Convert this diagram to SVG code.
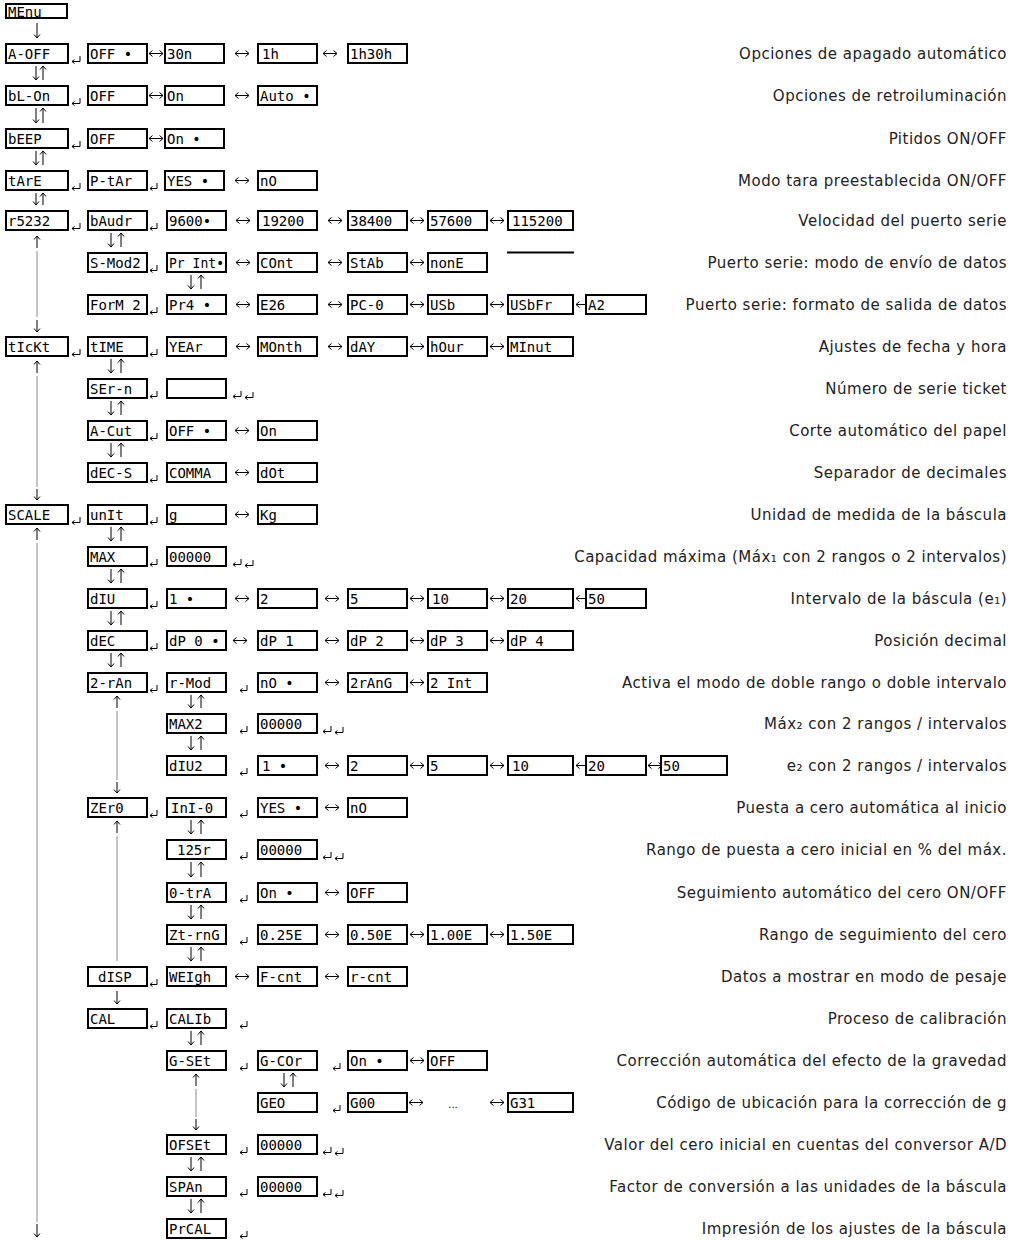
<svg xmlns="http://www.w3.org/2000/svg" width="1020" height="1240" viewBox="0 0 1020 1240">
<style>
.b{fill:#fff;stroke:#000;stroke-width:2}
.t{font-family:"DejaVu Sans Mono",monospace;font-size:14px;fill:#000}
.d{font-family:"DejaVu Sans",sans-serif;font-size:15px;fill:#222;text-anchor:end;letter-spacing:0.5px}
.a{stroke:#000;stroke-width:1;fill:none;marker-end:url(#ah)}
.x{stroke:#000;stroke-width:1;fill:none;marker-start:url(#ah);marker-end:url(#ah)}
.r{stroke:#000;stroke-width:1;fill:none;marker-end:url(#ahs)}
.g{stroke:#8c8c8c;stroke-width:1;fill:none}
.dots{font-family:"DejaVu Sans",sans-serif;font-size:10px;fill:#000;text-anchor:middle}
</style>
<defs>
<marker id="ah" viewBox="-4 -4 5 8" refX="0" refY="0" markerWidth="5" markerHeight="8" markerUnits="userSpaceOnUse" orient="auto-start-reverse" overflow="visible"><path d="M-3.5,-3 L0,0 L-3.5,3" fill="none" stroke="#000" stroke-width="1"/></marker>
<marker id="ahs" viewBox="-3 -3 4 6" refX="0" refY="0" markerWidth="4" markerHeight="6" markerUnits="userSpaceOnUse" orient="auto" overflow="visible"><path d="M-2.5,-2 L0,0 L-2.5,2" fill="none" stroke="#000" stroke-width="1"/></marker>
</defs>

<g id="connectors">
<!-- vertical -->
<path class="a" d="M37,23V38"/>
<path class="a" d="M36,66V80"/><path class="a" d="M43,80V66"/>
<path class="a" d="M36,108V123"/><path class="a" d="M43,123V108"/>
<path class="a" d="M36,151V165"/><path class="a" d="M43,165V151"/>
<path class="a" d="M36,193V205"/><path class="a" d="M43,205V193"/>
<path class="a" d="M111,233V247"/><path class="a" d="M121,247V233"/>
<path class="a" d="M111,359V373"/><path class="a" d="M121,373V359"/>
<path class="a" d="M111,401V415"/><path class="a" d="M121,415V401"/>
<path class="a" d="M111,443V457"/><path class="a" d="M121,457V443"/>
<path class="a" d="M111,527V541"/><path class="a" d="M121,541V527"/>
<path class="a" d="M111,569V583"/><path class="a" d="M121,583V569"/>
<path class="a" d="M111,611V625"/><path class="a" d="M121,625V611"/>
<path class="a" d="M111,653V667"/><path class="a" d="M121,667V653"/>
<path class="a" d="M191,275V289"/><path class="a" d="M201,289V275"/>
<path class="a" d="M191,695V708"/><path class="a" d="M201,708V695"/>
<path class="a" d="M191,736V750"/><path class="a" d="M201,750V736"/>
<path class="a" d="M191,820V834"/><path class="a" d="M201,834V820"/>
<path class="a" d="M191,862V877"/><path class="a" d="M201,877V862"/>
<path class="a" d="M191,905V919"/><path class="a" d="M201,919V905"/>
<path class="a" d="M191,947V961"/><path class="a" d="M201,961V947"/>
<path class="a" d="M191,1031V1045"/><path class="a" d="M201,1045V1031"/>
<path class="a" d="M191,1157V1171"/><path class="a" d="M201,1171V1157"/>
<path class="a" d="M191,1199V1213"/><path class="a" d="M201,1213V1199"/>
<path class="a" d="M284,1073V1087"/><path class="a" d="M293,1087V1073"/>
<!-- long vertical -->
<path class="a" d="M37,248V236"/><path class="g" d="M37,251V317"/><path class="a" d="M37,320V332"/>
<path class="a" d="M37,373V361"/><path class="g" d="M37,376V487"/><path class="a" d="M37,489V500"/>
<path class="a" d="M37,540V528"/><path class="g" d="M37,543V1222"/><path class="a" d="M37,1224V1237"/>
<path class="a" d="M117,708V696"/><path class="g" d="M117,711V780"/><path class="a" d="M117,782V793"/>
<path class="a" d="M117,833V821"/><path class="g" d="M117,836V961"/><path class="a" d="M117,991V1004"/>
<path class="a" d="M196,1086V1074"/><path class="g" d="M196,1089V1117"/><path class="a" d="M196,1119V1130"/>
<!-- horizontal -->
<path class="r" d="M80,56V61.5H72"/><path class="x" d="M149,53.5H163"/><path class="x" d="M235,53.5H249"/><path class="x" d="M323,53.5H337"/>
<path class="r" d="M80,98V103.5H72"/><path class="x" d="M149,95.5H163"/><path class="x" d="M235,95.5H249"/>
<path class="r" d="M80,141V146.5H72"/><path class="x" d="M149,138.5H163"/>
<path class="r" d="M80,183V188.5H72"/><path class="r" d="M157,183V188.5H150"/><path class="x" d="M235,180.5H249"/>
<path class="r" d="M80,223V228.5H72"/><path class="r" d="M157,223V228.5H150"/><path class="x" d="M236,220.5H250"/><path class="x" d="M328,220.5H342"/><path class="x" d="M410,220.5H424"/><path class="x" d="M490,220.5H504"/>
<path class="r" d="M157,265V270.5H150"/><path class="x" d="M236,262.5H250"/><path class="x" d="M328,262.5H342"/><path class="x" d="M410,262.5H424"/>
<path class="r" d="M157,307V312.5H150"/><path class="x" d="M236,304.5H250"/><path class="x" d="M328,304.5H342"/><path class="x" d="M410,304.5H424"/><path class="x" d="M490,304.5H504"/><path class="x" d="M576,304.5H590"/>
<path class="r" d="M80,349V354.5H72"/><path class="r" d="M157,349V354.5H150"/><path class="x" d="M236,346.5H250"/><path class="x" d="M328,346.5H342"/><path class="x" d="M410,346.5H424"/><path class="x" d="M490,346.5H504"/>
<path class="r" d="M157,391V396.5H150"/><path class="r" d="M241,391V396.5H233"/><path class="r" d="M253,392V397.5H245"/>
<path class="r" d="M157,433V438.5H150"/><path class="x" d="M235,430.5H249"/>
<path class="r" d="M157,475V480.5H150"/><path class="x" d="M235,472.5H249"/>
<path class="r" d="M80,517V522.5H72"/><path class="r" d="M157,517V522.5H150"/><path class="x" d="M235,514.5H249"/>
<path class="r" d="M157,559V564.5H150"/><path class="r" d="M241,559V564.5H233"/><path class="r" d="M253,560V565.5H245"/>
<path class="r" d="M157,601V606.5H150"/><path class="x" d="M235,598.5H249"/><path class="x" d="M325,598.5H339"/><path class="x" d="M410,598.5H424"/><path class="x" d="M490,598.5H504"/><path class="x" d="M576,598.5H590"/>
<path class="r" d="M157,643V648.5H150"/><path class="x" d="M233,640.5H247"/><path class="x" d="M325,640.5H339"/><path class="x" d="M410,640.5H424"/><path class="x" d="M490,640.5H504"/>
<path class="r" d="M157,685V690.5H150"/><path class="r" d="M247,685V690.5H240"/><path class="x" d="M325,682.5H339"/><path class="x" d="M410,682.5H424"/>
<path class="r" d="M247,726V731.5H240"/><path class="r" d="M331,726V731.5H323"/><path class="r" d="M343,727V732.5H335"/>
<path class="r" d="M247,768V773.5H240"/><path class="x" d="M325,765.5H339"/><path class="x" d="M410,765.5H424"/><path class="x" d="M490,765.5H504"/><path class="x" d="M576,765.5H590"/><path class="x" d="M648,765.5H662"/>
<path class="r" d="M157,810V815.5H150"/><path class="r" d="M247,810V815.5H240"/><path class="x" d="M325,807.5H339"/>
<path class="r" d="M247,852V857.5H240"/><path class="r" d="M331,852V857.5H323"/><path class="r" d="M343,853V858.5H335"/>
<path class="r" d="M247,895V900.5H240"/><path class="x" d="M325,892.5H339"/>
<path class="r" d="M247,937V942.5H240"/><path class="x" d="M325,934.5H339"/><path class="x" d="M410,934.5H424"/><path class="x" d="M490,934.5H504"/>
<path class="r" d="M157,979V984.5H150"/><path class="x" d="M235,976.5H249"/><path class="x" d="M325,976.5H339"/>
<path class="r" d="M157,1021V1026.5H150"/><path class="r" d="M247,1021V1026.5H240"/>
<path class="r" d="M247,1063V1068.5H240"/><path class="r" d="M340,1063V1068.5H333"/><path class="x" d="M410,1060.5H424"/>
<path class="r" d="M340,1105V1110.5H333"/><path class="x" d="M409,1102.5H423"/><path class="x" d="M490,1102.5H504"/>
<path class="r" d="M247,1147V1152.5H240"/><path class="r" d="M331,1147V1152.5H323"/><path class="r" d="M343,1148V1153.5H335"/>
<path class="r" d="M247,1189V1194.5H240"/><path class="r" d="M331,1189V1194.5H323"/><path class="r" d="M343,1190V1195.5H335"/>
<path class="r" d="M247,1231V1236.5H240"/>
<text class="dots" x="453" y="1108">...</text>
</g>

<g id="n-menu"><rect class="b" x="6" y="4" width="61" height="14"/><text class="t" x="8" y="17">MEnu</text></g>

<g id="n-aoff"><rect class="b" x="6" y="44" width="62" height="19"/><text class="t" x="8" y="58.5">A-OFF</text></g>
<g id="n-aoff-off"><rect class="b" x="88" y="44" width="59" height="19"/><text class="t" x="90" y="58.5">OFF •</text></g>
<g id="n-aoff-30n"><rect class="b" x="165" y="44" width="59" height="19"/><text class="t" x="167" y="58.5">30n</text></g>
<g id="n-aoff-1h"><rect class="b" x="258" y="44" width="59" height="19"/><text class="t" x="262" y="58.5">1h</text></g>
<g id="n-aoff-1h30h"><rect class="b" x="348" y="44" width="59" height="19"/><text class="t" x="350" y="58.5">1h30h</text></g>

<g id="n-blon"><rect class="b" x="6" y="86" width="62" height="19"/><text class="t" x="8" y="100.5">bL-On</text></g>
<g id="n-blon-off"><rect class="b" x="88" y="86" width="59" height="19"/><text class="t" x="90" y="100.5">OFF</text></g>
<g id="n-blon-on"><rect class="b" x="165" y="86" width="59" height="19"/><text class="t" x="167" y="100.5">On</text></g>
<g id="n-blon-auto"><rect class="b" x="258" y="86" width="59" height="19"/><text class="t" x="260" y="100.5">Auto •</text></g>

<g id="n-beep"><rect class="b" x="6" y="129" width="62" height="19"/><text class="t" x="8" y="143.5">bEEP</text></g>
<g id="n-beep-off"><rect class="b" x="88" y="129" width="59" height="19"/><text class="t" x="90" y="143.5">OFF</text></g>
<g id="n-beep-on"><rect class="b" x="165" y="129" width="59" height="19"/><text class="t" x="167" y="143.5">On •</text></g>

<g id="n-tare"><rect class="b" x="6" y="171" width="62" height="19"/><text class="t" x="8" y="185.5">tArE</text></g>
<g id="n-ptar"><rect class="b" x="88" y="171" width="59" height="19"/><text class="t" x="90" y="185.5">P-tAr</text></g>
<g id="n-ptar-yes"><rect class="b" x="165" y="171" width="59" height="19"/><text class="t" x="167" y="185.5">YES •</text></g>
<g id="n-ptar-no"><rect class="b" x="258" y="171" width="59" height="19"/><text class="t" x="260" y="185.5">nO</text></g>

<g id="n-rs232"><rect class="b" x="6" y="211" width="62" height="19"/><text class="t" x="8" y="225.5">r5232</text></g>
<g id="n-baudr"><rect class="b" x="88" y="211" width="59" height="19"/><text class="t" x="90" y="225.5">bAudr</text></g>
<g id="n-b9600"><rect class="b" x="167" y="211" width="59" height="19"/><text class="t" x="169" y="225.5">9600•</text></g>
<g id="n-b19200"><rect class="b" x="258" y="211" width="59" height="19"/><text class="t" x="262" y="225.5">19200</text></g>
<g id="n-b38400"><rect class="b" x="348" y="211" width="59" height="19"/><text class="t" x="350" y="225.5">38400</text></g>
<g id="n-b57600"><rect class="b" x="428" y="211" width="59" height="19"/><text class="t" x="430" y="225.5">57600</text></g>
<g id="n-b115200"><rect class="b" x="508" y="211" width="65" height="19"/><text class="t" x="512" y="225.5">115200</text></g>

<g id="n-smode"><rect class="b" x="88" y="253" width="59" height="19"/><text class="t" x="90" y="267.5">S-Mod2</text></g>
<g id="n-print"><rect class="b" x="167" y="253" width="59" height="19"/><text class="t" x="169" y="267.5" textLength="55" lengthAdjust="spacingAndGlyphs">Pr Int•</text></g>
<g id="n-cont"><rect class="b" x="258" y="253" width="59" height="19"/><text class="t" x="260" y="267.5">COnt</text></g>
<g id="n-stab"><rect class="b" x="348" y="253" width="59" height="19"/><text class="t" x="350" y="267.5">StAb</text></g>
<g id="n-none"><rect class="b" x="428" y="253" width="59" height="19"/><text class="t" x="430" y="267.5">nonE</text></g>
<g id="n-blank-line"><path d="M507,252.5H574" stroke="#000" stroke-width="2" fill="none"/></g>

<g id="n-form2"><rect class="b" x="88" y="295" width="59" height="19"/><text class="t" x="90" y="309.5">ForM 2</text></g>
<g id="n-pr4"><rect class="b" x="167" y="295" width="59" height="19"/><text class="t" x="169" y="309.5">Pr4 •</text></g>
<g id="n-e26"><rect class="b" x="258" y="295" width="59" height="19"/><text class="t" x="260" y="309.5">E26</text></g>
<g id="n-pc0"><rect class="b" x="348" y="295" width="59" height="19"/><text class="t" x="350" y="309.5">PC-0</text></g>
<g id="n-usb"><rect class="b" x="428" y="295" width="59" height="19"/><text class="t" x="430" y="309.5">USb</text></g>
<g id="n-usbfr"><rect class="b" x="508" y="295" width="65" height="19"/><text class="t" x="510" y="309.5">USbFr</text></g>
<g id="n-a2"><rect class="b" x="586" y="295" width="60" height="19"/><text class="t" x="588" y="309.5">A2</text></g>

<g id="n-ticket"><rect class="b" x="6" y="337" width="62" height="19"/><text class="t" x="8" y="351.5">tIcKt</text></g>
<g id="n-time"><rect class="b" x="88" y="337" width="59" height="19"/><text class="t" x="90" y="351.5">tIME</text></g>
<g id="n-year"><rect class="b" x="167" y="337" width="59" height="19"/><text class="t" x="169" y="351.5">YEAr</text></g>
<g id="n-month"><rect class="b" x="258" y="337" width="59" height="19"/><text class="t" x="260" y="351.5">MOnth</text></g>
<g id="n-day"><rect class="b" x="348" y="337" width="59" height="19"/><text class="t" x="350" y="351.5">dAY</text></g>
<g id="n-hour"><rect class="b" x="428" y="337" width="59" height="19"/><text class="t" x="430" y="351.5">hOur</text></g>
<g id="n-minut"><rect class="b" x="508" y="337" width="65" height="19"/><text class="t" x="510" y="351.5">MInut</text></g>

<g id="n-sern"><rect class="b" x="88" y="379" width="59" height="19"/><text class="t" x="90" y="393.5">SEr-n</text></g>
<g id="n-sern-val"><rect class="b" x="167" y="379" width="59" height="19"/></g>

<g id="n-acut"><rect class="b" x="88" y="421" width="59" height="19"/><text class="t" x="90" y="435.5">A-Cut</text></g>
<g id="n-acut-off"><rect class="b" x="167" y="421" width="59" height="19"/><text class="t" x="169" y="435.5">OFF •</text></g>
<g id="n-acut-on"><rect class="b" x="258" y="421" width="59" height="19"/><text class="t" x="260" y="435.5">On</text></g>

<g id="n-decs"><rect class="b" x="88" y="463" width="59" height="19"/><text class="t" x="90" y="477.5">dEC-S</text></g>
<g id="n-comma"><rect class="b" x="167" y="463" width="59" height="19"/><text class="t" x="169" y="477.5">COMMA</text></g>
<g id="n-dot"><rect class="b" x="258" y="463" width="59" height="19"/><text class="t" x="260" y="477.5">dOt</text></g>

<g id="n-scale"><rect class="b" x="6" y="505" width="62" height="19"/><text class="t" x="8" y="519.5">SCALE</text></g>
<g id="n-unit"><rect class="b" x="88" y="505" width="59" height="19"/><text class="t" x="90" y="519.5">unIt</text></g>
<g id="n-g"><rect class="b" x="167" y="505" width="59" height="19"/><text class="t" x="169" y="519.5">g</text></g>
<g id="n-kg"><rect class="b" x="258" y="505" width="59" height="19"/><text class="t" x="260" y="519.5">Kg</text></g>

<g id="n-max"><rect class="b" x="88" y="547" width="59" height="19"/><text class="t" x="90" y="561.5">MAX</text></g>
<g id="n-max-val"><rect class="b" x="167" y="547" width="59" height="19"/><text class="t" x="169" y="561.5">00000</text></g>

<g id="n-div"><rect class="b" x="88" y="589" width="59" height="19"/><text class="t" x="90" y="603.5">dIU</text></g>
<g id="n-div-1"><rect class="b" x="167" y="589" width="59" height="19"/><text class="t" x="169" y="603.5">1 •</text></g>
<g id="n-div-2"><rect class="b" x="258" y="589" width="59" height="19"/><text class="t" x="260" y="603.5">2</text></g>
<g id="n-div-5"><rect class="b" x="348" y="589" width="59" height="19"/><text class="t" x="350" y="603.5">5</text></g>
<g id="n-div-10"><rect class="b" x="428" y="589" width="59" height="19"/><text class="t" x="432" y="603.5">10</text></g>
<g id="n-div-20"><rect class="b" x="508" y="589" width="65" height="19"/><text class="t" x="510" y="603.5">20</text></g>
<g id="n-div-50"><rect class="b" x="586" y="589" width="60" height="19"/><text class="t" x="588" y="603.5">50</text></g>

<g id="n-dec"><rect class="b" x="88" y="631" width="59" height="19"/><text class="t" x="90" y="645.5">dEC</text></g>
<g id="n-dp0"><rect class="b" x="167" y="631" width="59" height="19"/><text class="t" x="169" y="645.5">dP 0 •</text></g>
<g id="n-dp1"><rect class="b" x="258" y="631" width="59" height="19"/><text class="t" x="260" y="645.5">dP 1</text></g>
<g id="n-dp2"><rect class="b" x="348" y="631" width="59" height="19"/><text class="t" x="350" y="645.5">dP 2</text></g>
<g id="n-dp3"><rect class="b" x="428" y="631" width="59" height="19"/><text class="t" x="430" y="645.5">dP 3</text></g>
<g id="n-dp4"><rect class="b" x="508" y="631" width="65" height="19"/><text class="t" x="510" y="645.5">dP 4</text></g>

<g id="n-2ran"><rect class="b" x="88" y="673" width="59" height="19"/><text class="t" x="90" y="687.5">2-rAn</text></g>
<g id="n-rmod"><rect class="b" x="167" y="673" width="59" height="19"/><text class="t" x="169" y="687.5">r-Mod</text></g>
<g id="n-rmod-no"><rect class="b" x="258" y="673" width="59" height="19"/><text class="t" x="260" y="687.5">nO •</text></g>
<g id="n-2rang"><rect class="b" x="348" y="673" width="59" height="19"/><text class="t" x="350" y="687.5">2rAnG</text></g>
<g id="n-2int"><rect class="b" x="428" y="673" width="59" height="19"/><text class="t" x="430" y="687.5">2 Int</text></g>

<g id="n-max2"><rect class="b" x="167" y="714" width="59" height="19"/><text class="t" x="169" y="728.5">MAX2</text></g>
<g id="n-max2-val"><rect class="b" x="258" y="714" width="59" height="19"/><text class="t" x="260" y="728.5">00000</text></g>

<g id="n-div2"><rect class="b" x="167" y="756" width="59" height="19"/><text class="t" x="169" y="770.5">dIU2</text></g>
<g id="n-div2-1"><rect class="b" x="258" y="756" width="59" height="19"/><text class="t" x="262" y="770.5">1 •</text></g>
<g id="n-div2-2"><rect class="b" x="348" y="756" width="59" height="19"/><text class="t" x="350" y="770.5">2</text></g>
<g id="n-div2-5"><rect class="b" x="428" y="756" width="59" height="19"/><text class="t" x="430" y="770.5">5</text></g>
<g id="n-div2-10"><rect class="b" x="508" y="756" width="65" height="19"/><text class="t" x="512" y="770.5">10</text></g>
<g id="n-div2-20"><rect class="b" x="586" y="756" width="60" height="19"/><text class="t" x="588" y="770.5">20</text></g>
<g id="n-div2-50"><rect class="b" x="661" y="756" width="66" height="19"/><text class="t" x="663" y="770.5">50</text></g>

<g id="n-zero"><rect class="b" x="88" y="798" width="59" height="19"/><text class="t" x="90" y="812.5">ZEr0</text></g>
<g id="n-ini0"><rect class="b" x="167" y="798" width="59" height="19"/><text class="t" x="171" y="812.5">InI-0</text></g>
<g id="n-ini0-yes"><rect class="b" x="258" y="798" width="59" height="19"/><text class="t" x="260" y="812.5">YES •</text></g>
<g id="n-ini0-no"><rect class="b" x="348" y="798" width="59" height="19"/><text class="t" x="350" y="812.5">nO</text></g>

<g id="n-125r"><rect class="b" x="167" y="840" width="59" height="19"/><text class="t" x="177" y="854.5">125r</text></g>
<g id="n-125r-val"><rect class="b" x="258" y="840" width="59" height="19"/><text class="t" x="260" y="854.5">00000</text></g>

<g id="n-0tra"><rect class="b" x="167" y="883" width="59" height="19"/><text class="t" x="169" y="897.5">0-trA</text></g>
<g id="n-0tra-on"><rect class="b" x="258" y="883" width="59" height="19"/><text class="t" x="260" y="897.5">On •</text></g>
<g id="n-0tra-off"><rect class="b" x="348" y="883" width="59" height="19"/><text class="t" x="350" y="897.5">OFF</text></g>

<g id="n-ztrng"><rect class="b" x="167" y="925" width="59" height="19"/><text class="t" x="169" y="939.5">Zt-rnG</text></g>
<g id="n-025e"><rect class="b" x="258" y="925" width="59" height="19"/><text class="t" x="260" y="939.5">0.25E</text></g>
<g id="n-050e"><rect class="b" x="348" y="925" width="59" height="19"/><text class="t" x="350" y="939.5">0.50E</text></g>
<g id="n-100e"><rect class="b" x="428" y="925" width="59" height="19"/><text class="t" x="430" y="939.5">1.00E</text></g>
<g id="n-150e"><rect class="b" x="508" y="925" width="65" height="19"/><text class="t" x="510" y="939.5">1.50E</text></g>

<g id="n-disp"><rect class="b" x="88" y="967" width="59" height="19"/><text class="t" x="98" y="981.5">dISP</text></g>
<g id="n-weigh"><rect class="b" x="167" y="967" width="59" height="19"/><text class="t" x="169" y="981.5">WEIgh</text></g>
<g id="n-fcnt"><rect class="b" x="258" y="967" width="59" height="19"/><text class="t" x="260" y="981.5">F-cnt</text></g>
<g id="n-rcnt"><rect class="b" x="348" y="967" width="59" height="19"/><text class="t" x="350" y="981.5">r-cnt</text></g>

<g id="n-cal"><rect class="b" x="88" y="1009" width="59" height="19"/><text class="t" x="90" y="1023.5">CAL</text></g>
<g id="n-calib"><rect class="b" x="167" y="1009" width="59" height="19"/><text class="t" x="169" y="1023.5">CALIb</text></g>

<g id="n-gset"><rect class="b" x="167" y="1051" width="59" height="19"/><text class="t" x="169" y="1065.5">G-SEt</text></g>
<g id="n-gcor"><rect class="b" x="258" y="1051" width="59" height="19"/><text class="t" x="260" y="1065.5">G-COr</text></g>
<g id="n-gcor-on"><rect class="b" x="348" y="1051" width="59" height="19"/><text class="t" x="350" y="1065.5">On •</text></g>
<g id="n-gcor-off"><rect class="b" x="428" y="1051" width="59" height="19"/><text class="t" x="430" y="1065.5">OFF</text></g>

<g id="n-geo"><rect class="b" x="258" y="1093" width="59" height="19"/><text class="t" x="260" y="1107.5">GEO</text></g>
<g id="n-g00"><rect class="b" x="348" y="1093" width="59" height="19"/><text class="t" x="350" y="1107.5">G00</text></g>
<g id="n-g31"><rect class="b" x="508" y="1093" width="65" height="19"/><text class="t" x="510" y="1107.5">G31</text></g>

<g id="n-ofset"><rect class="b" x="167" y="1135" width="59" height="19"/><text class="t" x="169" y="1149.5">OFSEt</text></g>
<g id="n-ofset-val"><rect class="b" x="258" y="1135" width="59" height="19"/><text class="t" x="260" y="1149.5">00000</text></g>

<g id="n-span"><rect class="b" x="167" y="1177" width="59" height="19"/><text class="t" x="169" y="1191.5">SPAn</text></g>
<g id="n-span-val"><rect class="b" x="258" y="1177" width="59" height="19"/><text class="t" x="260" y="1191.5">00000</text></g>

<g id="n-prcal"><rect class="b" x="167" y="1219" width="59" height="19"/><text class="t" x="169" y="1233.5">PrCAL</text></g>

<g id="descriptions">
<text class="d" x="1007" y="58.5">Opciones de apagado automático</text>
<text class="d" x="1007" y="100.5">Opciones de retroiluminación</text>
<text class="d" x="1007" y="143.5">Pitidos ON/OFF</text>
<text class="d" x="1007" y="185.5">Modo tara preestablecida ON/OFF</text>
<text class="d" x="1007" y="225.5">Velocidad del puerto serie</text>
<text class="d" x="1007" y="267.5">Puerto serie: modo de envío de datos</text>
<text class="d" x="1007" y="309.5">Puerto serie: formato de salida de datos</text>
<text class="d" x="1007" y="351.5">Ajustes de fecha y hora</text>
<text class="d" x="1007" y="393.5">Número de serie ticket</text>
<text class="d" x="1007" y="435.5">Corte automático del papel</text>
<text class="d" x="1007" y="477.5">Separador de decimales</text>
<text class="d" x="1007" y="519.5">Unidad de medida de la báscula</text>
<text class="d" x="1007" y="561.5">Capacidad máxima (Máx₁ con 2 rangos o 2 intervalos)</text>
<text class="d" x="1007" y="603.5">Intervalo de la báscula (e₁)</text>
<text class="d" x="1007" y="645.5">Posición decimal</text>
<text class="d" x="1007" y="687.5">Activa el modo de doble rango o doble intervalo</text>
<text class="d" x="1007" y="728.5">Máx₂ con 2 rangos / intervalos</text>
<text class="d" x="1007" y="770.5">e₂ con 2 rangos / intervalos</text>
<text class="d" x="1007" y="812.5">Puesta a cero automática al inicio</text>
<text class="d" x="1007" y="854.5">Rango de puesta a cero inicial en % del máx.</text>
<text class="d" x="1007" y="897.5">Seguimiento automático del cero ON/OFF</text>
<text class="d" x="1007" y="939.5">Rango de seguimiento del cero</text>
<text class="d" x="1007" y="981.5">Datos a mostrar en modo de pesaje</text>
<text class="d" x="1007" y="1023.5">Proceso de calibración</text>
<text class="d" x="1007" y="1065.5">Corrección automática del efecto de la gravedad</text>
<text class="d" x="1007" y="1107.5">Código de ubicación para la corrección de g</text>
<text class="d" x="1007" y="1149.5">Valor del cero inicial en cuentas del conversor A/D</text>
<text class="d" x="1007" y="1191.5">Factor de conversión a las unidades de la báscula</text>
<text class="d" x="1007" y="1233.5">Impresión de los ajustes de la báscula</text>
</g>
</svg>
